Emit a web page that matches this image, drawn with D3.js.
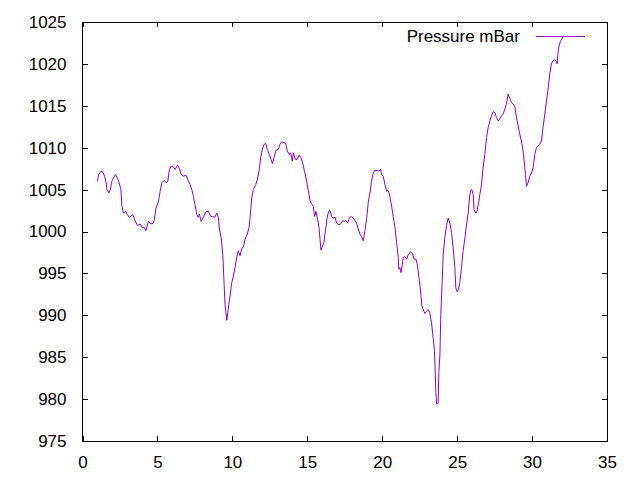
<!DOCTYPE html>
<html>
<head>
<meta charset="utf-8">
<script src="https://cdn.jsdelivr.net/npm/d3@7"></script>
<style>
  html, body { margin: 0; padding: 0; background: #fff; }
  svg { display: block; }
  text { font-family: "Liberation Sans", Arial, sans-serif; font-size: 17px; fill: #000; }
</style>
</head>
<body>
<svg id="chart" width="640" height="480"></svg>
<script>
// ---- data ----
const seriesName = "Pressure mBar";
const xTicks = [0, 5, 10, 15, 20, 25, 30, 35];
const yTicks = [975, 980, 985, 990, 995, 1000, 1005, 1010, 1015, 1020, 1025];
const days = [
  1.00,1.07,1.23,1.36,1.47,1.58,1.63,1.76,1.85,1.96,2.07,2.20,2.33,2.45,2.56,2.63,2.73,2.89,3.00,3.13,
  3.36,3.51,3.67,3.85,3.98,4.11,4.23,4.40,4.56,4.73,4.78,4.91,5.07,5.18,5.29,5.45,5.58,5.69,5.80,5.91,
  6.07,6.18,6.33,6.45,6.56,6.73,6.91,7.07,7.18,7.31,7.40,7.51,7.63,7.73,7.80,7.91,8.07,8.25,8.40,8.56,
  8.69,8.83,8.96,9.07,9.13,9.25,9.36,9.45,9.51,9.63,9.69,9.80,9.96,10.07,10.18,10.29,10.40,10.51,10.63,10.73,
  10.85,11.00,11.11,11.18,11.29,11.40,11.56,11.67,11.80,11.89,12.00,12.11,12.23,12.33,12.47,12.58,12.67,12.78,12.91,13.07,
  13.18,13.29,13.45,13.56,13.67,13.80,13.89,14.00,14.07,14.20,14.33,14.45,14.58,14.69,14.80,14.96,15.07,15.18,15.29,15.40,
  15.49,15.58,15.69,15.78,15.85,15.91,16.03,16.11,16.23,16.33,16.43,16.51,16.63,16.73,16.85,16.96,17.11,17.23,17.36,17.47,
  17.58,17.69,17.80,17.93,18.07,18.18,18.29,18.40,18.51,18.65,18.73,18.85,18.96,19.07,19.18,19.29,19.40,19.51,19.67,19.80,
  19.89,19.96,20.07,20.18,20.29,20.40,20.51,20.63,20.73,20.85,20.96,21.07,21.11,21.18,21.25,21.33,21.40,21.51,21.63,21.73,
  21.89,22.03,22.13,22.25,22.36,22.45,22.56,22.65,22.73,22.85,22.96,23.07,23.18,23.29,23.40,23.49,23.58,23.63,23.73,23.78,
  23.85,23.91,24.00,24.07,24.18,24.29,24.40,24.51,24.63,24.73,24.85,24.91,25.00,25.09,25.18,25.29,25.40,25.51,25.63,25.73,
  25.80,25.89,25.98,26.07,26.13,26.25,26.33,26.43,26.51,26.63,26.73,26.85,26.96,27.07,27.18,27.29,27.40,27.51,27.63,27.73,
  27.85,27.96,28.07,28.18,28.29,28.40,28.51,28.63,28.73,28.85,28.96,29.07,29.18,29.29,29.40,29.47,29.56,29.63,29.73,29.85,
  29.96,30.07,30.18,30.29,30.40,30.51,30.63,30.73,30.85,30.96,31.07,31.18,31.29,31.40,31.51,31.63,31.67,31.73,31.80,31.89,
  31.96,32.05
];
const pressure = [
  1006.0,1006.8,1007.2,1007.1,1006.6,1005.8,1005.0,1004.6,1005.0,1006.0,1006.4,1006.8,1006.4,1005.8,1005.0,1003.0,1002.2,1002.4,1002.0,1001.7,
  1002.0,1001.3,1000.7,1000.9,1000.5,1000.5,1000.1,1001.2,1000.9,1001.0,1001.3,1002.8,1003.6,1004.8,1005.8,1006.1,1005.8,1006.0,1007.4,1007.8,
  1007.7,1007.4,1007.9,1007.6,1006.9,1006.6,1006.7,1006.0,1005.6,1004.9,1004.2,1003.2,1002.0,1001.7,1002.1,1001.2,1001.7,1002.4,1002.4,1001.8,
  1001.8,1001.7,1002.2,1001.7,1000.3,999.3,997.3,993.7,991.3,989.4,990.3,991.7,993.9,994.7,995.7,996.9,997.7,997.1,998.0,998.1,
  999.1,999.7,1000.5,1001.6,1004.0,1005.0,1005.6,1006.2,1007.4,1008.8,1009.8,1010.4,1010.5,1009.8,1009.2,1008.6,1008.1,1008.8,1009.7,1009.8,
  1010.4,1010.7,1010.6,1010.5,1009.6,1009.2,1009.4,1008.4,1009.4,1008.6,1008.6,1009.1,1008.8,1008.2,1007.3,1006.0,1004.9,1003.7,1003.3,1003.0,
  1001.8,1002.4,1001.4,1000.5,999.1,997.8,998.3,998.7,1000.3,1001.7,1002.4,1002.5,1001.8,1001.6,1001.7,1001.0,1000.8,1000.9,1001.3,1001.2,
  1001.3,1001.0,1001.6,1001.8,1001.6,1001.3,1001.0,1000.3,999.7,999.3,998.9,1000.1,1001.5,1003.5,1004.6,1006.0,1007.0,1007.3,1007.3,1007.2,
  1007.4,1006.8,1006.6,1005.6,1004.8,1004.9,1004.2,1003.0,1001.8,1000.5,998.7,996.9,995.5,995.7,995.1,995.9,996.9,997.0,996.7,997.2,
  997.6,997.3,996.7,996.7,995.9,994.5,992.9,991.1,990.7,990.2,990.5,990.7,990.3,989.1,987.3,985.7,980.8,979.4,979.6,983.2,
  985.3,990.1,993.9,997.3,999.3,1000.7,1001.6,1001.0,999.9,998.1,995.7,993.3,992.8,993.1,993.9,995.7,997.7,999.1,1000.9,1002.1,
  1003.6,1004.9,1005.0,1004.4,1002.6,1002.2,1002.5,1003.4,1004.4,1005.6,1007.6,1009.2,1011.2,1012.4,1013.2,1013.8,1014.3,1014.2,1013.6,1013.2,
  1013.4,1013.8,1014.0,1014.6,1015.2,1016.4,1015.9,1015.4,1015.2,1014.9,1013.6,1012.6,1011.6,1010.8,1009.6,1008.4,1006.8,1005.4,1005.8,1006.6,
  1007.0,1007.6,1009.2,1010.0,1010.2,1010.4,1010.8,1012.4,1014.0,1015.6,1017.0,1018.8,1020.0,1020.4,1020.5,1020.3,1020.0,1021.3,1022.1,1022.7,
  1022.9,1023.2
];

// ---- layout ----
const W = 640, H = 480;
const margin = { left: 82.5, right: 33, top: 22, bottom: 39 };
const lineColor = "#9400d3";
const svg = d3.select("#chart");

const x = d3.scaleLinear().domain([0, 35]).range([margin.left, W - margin.right]);
const y = d3.scaleLinear().domain([975, 1025]).range([H - margin.bottom, margin.top]);

const tickLen = 5;
const axG = svg.append("g").attr("shape-rendering", "crispEdges");

const axBottom = axG.append("g").attr("transform", `translate(0,${y(975)})`)
  .call(d3.axisBottom(x).tickValues(xTicks).tickSize(-tickLen).tickPadding(tickLen + 10).tickFormat(d3.format("d")));
const axTop = axG.append("g").attr("transform", `translate(0,${y(1025)})`)
  .call(d3.axisTop(x).tickValues(xTicks).tickSize(-tickLen).tickFormat(""));
const axLeft = axG.append("g").attr("transform", `translate(${x(0)},0)`)
  .call(d3.axisLeft(y).tickValues(yTicks).tickSize(-tickLen).tickPadding(tickLen + 11).tickFormat(d3.format("d")));
const axRight = axG.append("g").attr("transform", `translate(${x(35)},0)`)
  .call(d3.axisRight(y).tickValues(yTicks).tickSize(-tickLen).tickFormat(""));

[axBottom, axTop, axLeft, axRight].forEach(g => {
  g.select(".domain").remove();
  g.selectAll(".tick line").attr("stroke", "#000").attr("stroke-width", 1);
  g.selectAll("text").attr("font-family", null).attr("font-size", null).attr("fill", "#000");
});
axBottom.selectAll("text").attr("dy", "0.71em");

axG.append("rect")
  .attr("x", x(0)).attr("y", y(1025))
  .attr("width", x(35) - x(0)).attr("height", y(975) - y(1025))
  .attr("fill", "none").attr("stroke", "#000").attr("stroke-width", 1);

const data = days.map((d, i) => [d, pressure[i]]);
svg.append("path")
  .datum(data)
  .attr("fill", "none")
  .attr("stroke", lineColor)
  .attr("stroke-width", 1)
  .attr("d", d3.line().x(d => x(d[0])).y(d => y(d[1])));

const legY = 36;
svg.append("text")
  .attr("x", 520).attr("y", legY).attr("dy", "0.35em")
  .attr("text-anchor", "end")
  .text(seriesName);
svg.append("line")
  .attr("x1", 536).attr("x2", 585).attr("y1", legY).attr("y2", legY)
  .attr("stroke", lineColor).attr("stroke-width", 1)
  .attr("shape-rendering", "crispEdges");
</script>
</body>
</html>
